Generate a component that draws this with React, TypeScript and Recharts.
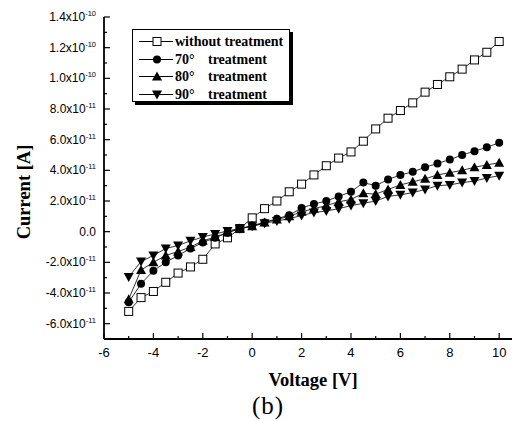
import React from "react";
import { LineChart, Line, XAxis, YAxis, Legend, Label } from "recharts";

// voltage sweep [V]
const voltage = [
  -5, -4.5, -4, -3.5, -3, -2.5, -2, -1.5, -1, -0.5, 0, 0.5, 1, 1.5, 2, 2.5, 3,
  3.5, 4, 4.5, 5, 5.5, 6, 6.5, 7, 7.5, 8, 8.5, 9, 9.5, 10,
];

// current in units of 1e-11 A
const withoutTreatment = [
  -5.2, -4.3, -3.9, -3.3, -2.7, -2.3, -1.8, -0.8, -0.4, 0.2, 0.9, 1.5, 2.0, 2.6,
  3.1, 3.7, 4.3, 4.8, 5.2, 5.9, 6.7, 7.4, 7.9, 8.4, 9.1, 9.6, 10.1, 10.6, 11.2,
  11.7, 12.4,
];
const treat70 = [
  -4.6, -3.4, -2.55, -2.0, -1.55, -1.1, -0.7, -0.4, -0.07, 0.2, 0.4, 0.6, 0.85,
  1.07, 1.55, 1.8, 2.0, 2.3, 2.6, 3.2, 3.0, 3.4, 3.7, 3.9, 4.2, 4.45, 4.7, 5.0,
  5.25, 5.5, 5.8,
];
const treat80 = [
  -4.4, -2.5, -2.0, -1.55, -1.3, -1.0, -0.6, -0.35, -0.05, 0.2, 0.35, 0.6, 0.8,
  1.0, 1.3, 1.5, 1.7, 1.95, 2.1, 2.5, 2.45, 2.75, 3.05, 3.25, 3.45, 3.7, 3.85,
  4.0, 4.2, 4.35, 4.5,
];
const treat90 = [
  -2.95, -1.95, -1.55, -1.1, -0.9, -0.6, -0.35, -0.15, 0.05, 0.2, 0.35, 0.55,
  0.7, 0.85, 1.05, 1.25, 1.35, 1.5, 1.7, 1.85, 2.0, 2.3, 2.4, 2.55, 2.75, 3.0,
  3.05, 3.2, 3.3, 3.5, 3.65,
];

const xTicks = [-6, -5, -4, -3, -2, -1, 0, 1, 2, 3, 4, 5, 6, 7, 8, 9, 10];
const yTicks = [-6, -5, -4, -3, -2, -1, 0, 1, 2, 3, 4, 5, 6, 7, 8, 9, 10, 11, 12, 13, 14];

const legendRows = [
  { name: "without treatment", angle: "", shape: "square" },
  { name: "treatment", angle: "70°", shape: "circle" },
  { name: "treatment", angle: "80°", shape: "up" },
  { name: "treatment", angle: "90°", shape: "down" },
];

const data = voltage.map((v, i) => ({
  v,
  s0: withoutTreatment[i],
  s70: treat70[i],
  s80: treat80[i],
  s90: treat90[i],
}));

const SERIF = "'Liberation Serif', 'Times New Roman', serif";
const SANS = "'Liberation Sans', Arial, sans-serif";

function Marker({ shape, cx, cy }: { shape: string; cx: number; cy: number }) {
  if (shape === "square")
    return <rect x={cx - 4} y={cy - 4} width={8} height={8} fill="#fff" stroke="#000" strokeWidth={1} />;
  if (shape === "circle") return <circle cx={cx} cy={cy} r={4} fill="#000" />;
  if (shape === "up")
    return <polygon points={`${cx},${cy - 5} ${cx - 5},${cy + 4} ${cx + 5},${cy + 4}`} fill="#000" />;
  return <polygon points={`${cx},${cy + 5} ${cx - 5},${cy - 4} ${cx + 5},${cy - 4}`} fill="#000" />;
}

const makeDot = (shape: string) => (props: any) => (
  <Marker key={`${shape}-${props.index}`} shape={shape} cx={props.cx} cy={props.cy} />
);

function XTick({ x, y, payload }: any) {
  const v = payload.value;
  const major = v % 2 === 0;
  return (
    <g>
      <line x1={x} y1={y} x2={x} y2={y - (major ? 6 : 3)} stroke="#000" strokeWidth={1.2} />
      {major && (
        <text x={x} y={y + 18} textAnchor="middle" fontFamily={SANS} fontSize={13} fill="#000">
          {v}
        </text>
      )}
    </g>
  );
}

function YTick({ x, y, payload }: any) {
  const v = payload.value;
  const major = v % 2 === 0;
  let mant = "";
  let exp = "";
  if (v === 0) mant = "0.0";
  else if (Math.abs(v) >= 10) {
    mant = (v / 10).toFixed(1) + "x10";
    exp = "-10";
  } else {
    mant = v.toFixed(1) + "x10";
    exp = "-11";
  }
  return (
    <g>
      <line x1={x} y1={y} x2={x + (major ? 6 : 3)} y2={y} stroke="#000" strokeWidth={1.2} />
      {major && (
        <text x={x - 8} y={y + 4} textAnchor="end" fontFamily={SANS} fontSize={12} fill="#000">
          {mant}
          {exp && (
            <tspan fontSize={7.5} dy={-5}>
              {exp}
            </tspan>
          )}
        </text>
      )}
    </g>
  );
}

function LegendBox() {
  return (
    <div
      style={{
        width: 158,
        height: 73,
        boxSizing: "border-box",
        border: "1.5px solid #000",
        boxShadow: "3px 3px 0 #000",
        background: "#fff",
        position: "relative",
        fontFamily: SERIF,
        fontWeight: "bold",
        fontSize: 14,
        color: "#000",
      }}
    >
      {legendRows.map((row, i) => (
        <div key={i} style={{ position: "absolute", left: 0, top: 3 + i * 17.5, height: 17, width: 156 }}>
          <svg width={40} height={17} style={{ position: "absolute", left: 6, top: 0 }}>
            <line x1={0} y1={8.5} x2={34} y2={8.5} stroke="#000" strokeWidth={1} />
            <Marker shape={row.shape} cx={18} cy={8.5} />
          </svg>
          {row.angle ? (
            <>
              <span style={{ position: "absolute", left: 42, top: 0, lineHeight: "17px" }}>{row.angle}</span>
              <span style={{ position: "absolute", left: 75, top: 0, lineHeight: "17px" }}>{row.name}</span>
            </>
          ) : (
            <span style={{ position: "absolute", left: 42, top: 0, lineHeight: "17px" }}>{row.name}</span>
          )}
        </div>
      ))}
    </div>
  );
}

export default function App() {
  return (
    <div style={{ position: "absolute", left: 0, top: 0, width: 512, height: 421, overflow: "hidden", background: "#fff" }}>
      <LineChart width={530} height={421} data={data} margin={{ top: 17, right: 16, bottom: 0, left: 0 }}>
        <XAxis
          dataKey="v"
          type="number"
          domain={[-6, 10.6]}
          ticks={xTicks}
          interval={0}
          height={82}
          tickSize={0}
          tickMargin={0}
          tickLine={false}
          tick={<XTick />}
          axisLine={{ stroke: "#000", strokeWidth: 1.8 }}
          allowDataOverflow
        >
          <Label
            content={() => (
              <text x={313} y={386} textAnchor="middle" fontFamily={SERIF} fontWeight="bold" fontSize={18.5} fill="#000">
                Voltage [V]
              </text>
            )}
          />
        </XAxis>
        <XAxis
          xAxisId="top"
          orientation="top"
          dataKey="v"
          type="number"
          domain={[-6, 10.6]}
          height={0}
          tick={false}
          tickLine={false}
          axisLine={{ stroke: "#000", strokeWidth: 1.8 }}
        />
        <YAxis
          type="number"
          domain={[-7, 14]}
          ticks={yTicks}
          interval={0}
          width={104}
          tickSize={0}
          tickMargin={0}
          tickLine={false}
          tick={<YTick />}
          axisLine={{ stroke: "#000", strokeWidth: 1.8 }}
          allowDataOverflow
        >
          <Label
            content={() => (
              <text
                x={30}
                y={192}
                transform="rotate(-90 30 192)"
                textAnchor="middle"
                fontFamily={SERIF}
                fontWeight="bold"
                fontSize={18.5}
                fill="#000"
              >
                Current [A]
              </text>
            )}
          />
        </YAxis>
        <Legend
          layout="vertical"
          align="center"
          verticalAlign="middle"
          content={() => <LegendBox />}
          wrapperStyle={{ left: 132, top: 29, width: 162 }}
        />
        <Line dataKey="s0" stroke="#000" strokeWidth={0.8} dot={makeDot("square")} isAnimationActive={false} />
        <Line dataKey="s70" stroke="#000" strokeWidth={0.8} dot={makeDot("circle")} isAnimationActive={false} />
        <Line dataKey="s80" stroke="#000" strokeWidth={0.8} dot={makeDot("up")} isAnimationActive={false} />
        <Line dataKey="s90" stroke="#000" strokeWidth={0.8} dot={makeDot("down")} isAnimationActive={false} />
      </LineChart>
      <div
        style={{
          position: "absolute",
          left: 252,
          top: 394,
          fontFamily: SERIF,
          fontSize: 25,
          letterSpacing: 1,
          lineHeight: "24px",
          color: "#000",
        }}
      >
        (b)
      </div>
    </div>
  );
}
